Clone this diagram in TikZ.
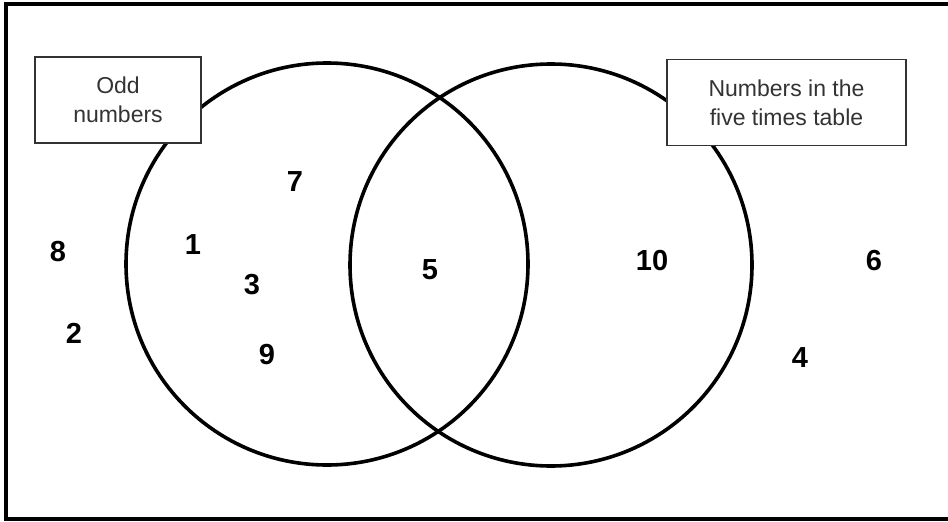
\documentclass[tikz,border=0pt]{standalone}
\usepackage{fontspec}
\setmainfont{Liberation Sans}
\usepackage{tikz}

\begin{document}
\begin{tikzpicture}[x=1pt, y=-1pt,
    set/.style={draw, circle, line width=3.6pt, minimum size=402pt, inner sep=0pt},
    num/.style={font=\fontsize{29}{34}\selectfont\bfseries, inner sep=0pt},
    tag/.style={draw=black!80, line width=1.1pt, fill=white, align=center, text=black!80,
                font=\fontsize{23}{29}\selectfont, minimum height=86pt, inner sep=0pt}]
                \useasboundingbox (0,0) rectangle (948,522);
                \clip (0,0) rectangle (948,522);
                \draw[line width=4.2pt] (6,4) rectangle (970,519);
                \node[set] (odd) at (327,264) {};
                \node[set] (five) at (551,265) {};
                \node[tag, minimum width=166pt] (oddtag) at (118,100) {Odd\\numbers};
                \node[tag, minimum width=239pt] (fivetag) at (786.5,102.5) {Numbers in the\\five times table};
                \foreach \n/\x/\y in {8/58/252, 2/74/333, 1/193/245, 3/252/285, 9/267/355,
                                      7/295/182, 5/430/270, 10/652/261, 6/874/261, 4/800/358}
                    \node[num] (n\n) at (\x,\y) {\n};
            \end{tikzpicture}
\end{document}
